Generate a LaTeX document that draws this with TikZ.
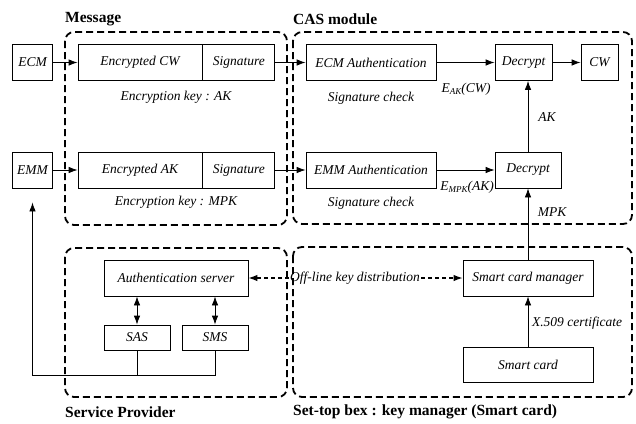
\documentclass[tikz,border=0pt]{standalone}
\usepackage{fontspec}
\setmainfont{Liberation Serif}
\usetikzlibrary{positioning,arrows.meta}
\newcommand{\keysub}[2]{E\raisebox{-2.5pt}{\fontsize{9}{9}\selectfont #1}(#2)}
\tikzset{
	box/.style={draw, line width=0.8pt, inner sep=1pt, minimum height=36pt, font=\fontsize{13.5}{15}\selectfont\itshape},
	note/.style={inner sep=1pt, font=\fontsize{13.5}{15}\selectfont\itshape},
	title/.style={inner sep=0pt, anchor=west, font=\fontsize{15.5}{17}\selectfont\bfseries},
	group/.style={draw, line width=1.8pt, dash pattern=on 7pt off 4pt, rounded corners=9pt},
	arr/.style={line width=0.8pt, -{Latex[length=9pt,width=6.5pt]}},
	darr/.style={line width=0.8pt, {Latex[length=9pt,width=6.5pt]}-{Latex[length=9pt,width=6.5pt]}},
	keyarr/.style={arr, line width=1.2pt, dash pattern=on 4pt off 3pt},
}

\begin{document}
\begin{tikzpicture}[x=1pt,y=-1pt]
    \useasboundingbox (0,0) rectangle (636,423);

    \draw[group] (65,32) rectangle (287,225);
    \draw[group] (293,32) rectangle (632,224);
    \draw[group] (65,248) rectangle (287,397);
    \draw[group] (293,247) rectangle (632,397);
    \node[title] (tmsg) at (65,19) {Message};
    \node[title] (tcas) at (293,19) {CAS module};
    \node[title] (tsp) at (65,412) {Service Provider};
    \node[title] (tstb) at (293,412) {Set-top bex : key manager (Smart card)};

    \node[box, minimum width=40pt] (ecm) at (32.5,62.5) {ECM};
    \node[box, minimum width=124pt] (enccw) at (140,62.5) {Encrypted CW};
    \node[box, minimum width=72pt, right=0pt of enccw] (sigcw) {Signature};
    \node[box, minimum width=130pt] (ecmauth) at (371,62.5) {ECM Authentication};
    \node[box, minimum width=57pt] (dec1) at (523.5,62.5) {Decrypt};
    \node[box, minimum width=37pt] (cw) at (599.5,62.5) {CW};

    \node[box, minimum width=40pt] (emm) at (32.5,170) {EMM};
    \node[box, minimum width=124pt] (encak) at (140,170) {Encrypted AK};
    \node[box, minimum width=72pt, right=0pt of encak] (sigak) {Signature};
    \node[box, minimum width=130pt] (emmauth) at (371,170) {EMM Authentication};
    \node[box, minimum width=66pt] (dec2) at (528,170) {Decrypt};

    \node[box, minimum width=144pt] (authsrv) at (176,278) {Authentication server};
    \node[box, minimum width=66pt, minimum height=25pt] (sas) at (137,337.5) {SAS};
    \node[box, minimum width=66pt, minimum height=25pt] (sms) at (215,337.5) {SMS};
    \node[box, minimum width=130pt] (scm) at (528,278) {Smart card manager};
    \node[box, minimum width=130pt, minimum height=35pt] (card) at (528,364.5) {Smart card};

    \node[note] (keycw) at (176,97) {Encryption key : AK};
    \node[note] (keyak) at (176,202) {Encryption key : MPK};
    \node[note] (chk1) at (371,98) {Signature check};
    \node[note] (chk2) at (371,203) {Signature check};
    \node[note] (eak) at (466,89) {\keysub{AK}{CW}};
    \node[note] (empk) at (467,187) {\keysub{MPK}{AK}};
    \node[note] (ak) at (547,117) {AK};
    \node[note] (mpk) at (552,212) {MPK};
    \node[note] (x509) at (577,323) {X.509 certificate};
    \node[note] (offline) at (355,278) {Off-line key distribution};
    \coordinate (bus) at (32.5,375);

    \draw[arr] (ecm) -- (enccw);
    \draw[arr] (sigcw) -- (ecmauth);
    \draw[arr] (ecmauth) -- (dec1);
    \draw[arr] (dec1) -- (cw);

    \draw[arr] (emm) -- (encak);
    \draw[arr] (sigak) -- (emmauth);
    \draw[arr] (emmauth) -- (dec2);
    \draw[arr] (dec2.north) -- (dec2.north |- dec1.south);

    \draw[arr] (scm) -- (dec2);
    \draw[arr] (card) -- (scm);
    \draw[darr] (sas.north) -- (sas.north |- authsrv.south);
    \draw[darr] (sms.north) -- (sms.north |- authsrv.south);
    \draw[keyarr] (offline) -- (authsrv);
    \draw[keyarr] (offline) -- (scm);

    \draw[line width=0.8pt] (sas.south) -- (sas.south |- bus);
    \draw[arr, shorten >=14pt] (sms.south) |- (bus) -- (emm.south);
\end{tikzpicture}
\end{document}
